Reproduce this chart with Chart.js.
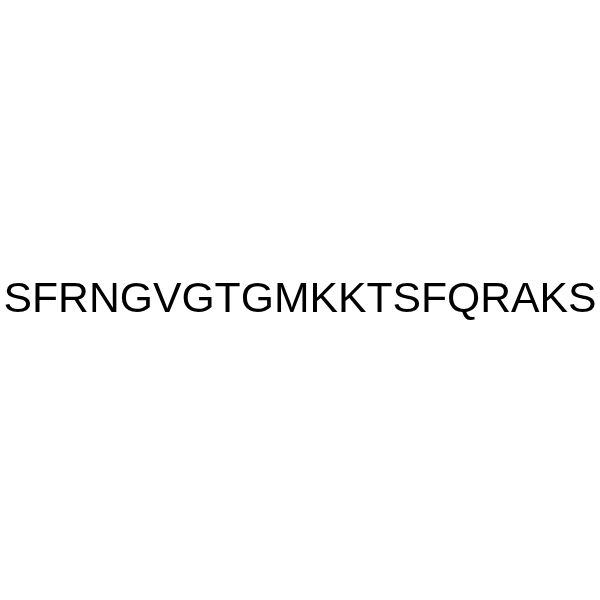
<!DOCTYPE html>
<html>
<head>
<meta charset="utf-8">
<script src="https://cdn.jsdelivr.net/npm/chart.js@4/dist/chart.umd.min.js"></script>
<style>
  html, body { margin: 0; padding: 0; background: #ffffff; }
  #wrap { width: 600px; height: 600px; }
</style>
</head>
<body>
<div id="wrap"><canvas id="seq-chart"></canvas></div>
<script>
// Peptide sequence, one residue per entry
const residues = ["S","F","R","N","G","V","G","T","G","M","K","K","T","S","F","Q","R","A","K","S"];
const categories = [];
const values = [];

const ctx = document.getElementById("seq-chart");

new Chart(ctx, {
  type: "bar",
  data: {
    labels:   categories,
    datasets: [{ data: values }],
  },
  options: {
    responsive:          true,
    maintainAspectRatio: false,
    animation:           false,
    layout: { padding: 0 },
    plugins: {
      legend:  { display: false },
      tooltip: { enabled: false },
      title: {
        display: true,
        text:    residues.join(""),
        color:   "#000000",
        font:    { family: "'Liberation Sans', Arial, sans-serif", size: 42.7, weight: "normal" },
        padding: { top: 275, bottom: 0 },
      },
    },
    scales: {
      x: { display: false },
      y: { display: false },
    },
  },
});
</script>
</body>
</html>
